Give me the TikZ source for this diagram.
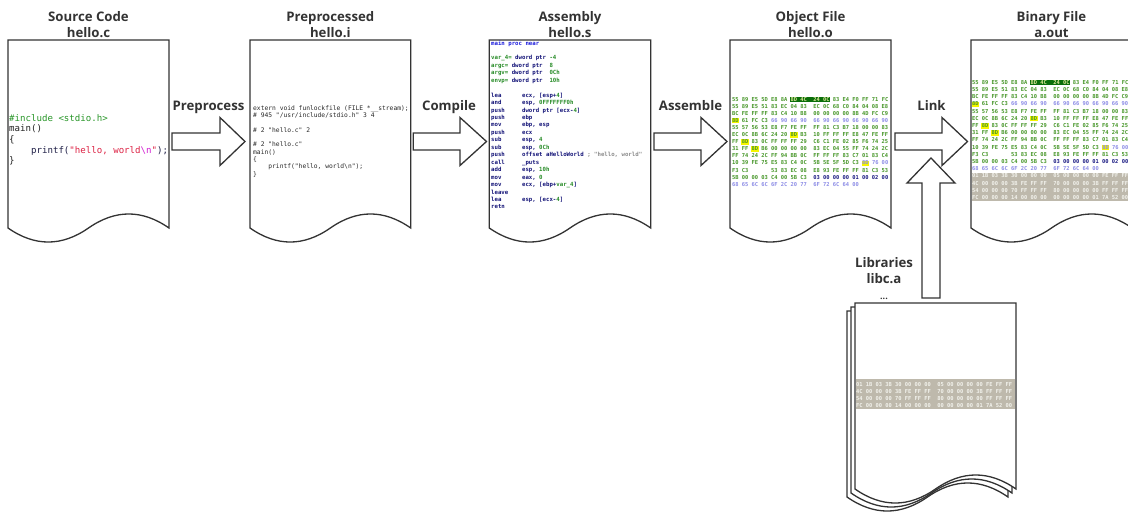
\documentclass[tikz,border=0pt]{standalone}
\usepackage{fontspec}
\setmainfont{Open Sans}
\newfontfamily\codefont{DejaVu Sans Mono}
\usetikzlibrary{calc}

\definecolor{lineC}{RGB}{51,51,51}
\definecolor{incG}{RGB}{40,150,40}
\definecolor{srcDark}{RGB}{34,34,34}
\definecolor{printfC}{RGB}{30,30,70}
\definecolor{strR}{RGB}{221,34,68}
\definecolor{escM}{RGB}{210,30,210}
\definecolor{preC}{RGB}{40,40,40}
\definecolor{asmNavy}{RGB}{20,20,120}
\definecolor{asmBlue}{RGB}{30,30,220}
\definecolor{asmGreen}{RGB}{40,140,40}
\definecolor{asmGray}{RGB}{140,140,140}
\definecolor{hexG}{RGB}{70,150,40}
\definecolor{hexLav}{RGB}{140,140,230}
\definecolor{hexNavy}{RGB}{25,25,130}
\definecolor{hlDark}{RGB}{10,110,10}
\definecolor{hlDarkText}{RGB}{220,230,150}
\definecolor{hlYel}{RGB}{245,245,0}
\definecolor{bandC}{RGB}{190,185,172}
\definecolor{bandT}{RGB}{242,242,236}

\newcommand\hlbox[3]{\kern-0.7pt\relax{\setlength\fboxsep{0pt}\colorbox{#1}{\kern0.7pt\relax\rule[-1pt]{0pt}{5.4pt}\color{#2}#3\kern0.7pt\relax}}\kern-0.7pt\relax}
\newcommand\hL[1]{{\color{hexLav}#1}}
\newcommand\hN[1]{{\color{hexNavy}#1}}
\newcommand\hY[1]{\hlbox{hlYel}{hexG}{#1}}
\newcommand\hD[1]{\hlbox{hlDark}{hlDarkText}{#1}}
\newcommand\aG[1]{{\color{asmGreen}#1}}
\newcommand\mn[1]{\makebox[5.418em][l]{#1}}

\newcommand\docshape[4]{%
  \draw[docline] (#1,#3) -- (#2,#3) -- (#2,#4)
    .. controls ({#2-(#2-#1)/6},{#4-18.7}) and ({#1+(#2-#1)*2/3},{#4-18.7}) .. ({(#1+#2)/2},#4)
    .. controls ({#1+(#2-#1)/3},{#4+18.7}) and ({#1+(#2-#1)/6},{#4+18.7}) .. (#1,#4) -- cycle;}
\newcommand\harrow[3]{%
  \draw[blockarrow] (#1,133) -- (#2,133) -- (#2,117.5) -- (#3,141.5) -- (#2,165.5) -- (#2,150) -- (#1,150) -- cycle;}

\newcommand\objrows{%
 {55 89 E5 5D E8 8A \hD{8D 4C~ 24 0C} 83 E4 F0 FF 71 FC},
 {55 89 E5 51 83 EC 04 83~ EC 0C 68 C0 84 04 08 E8},
 {BC FE FF FF 83 C4 10 B8~ 00 00 00 00 8B 4D FC C9},
 {\hY{8D} 61 FC C3 \hL{66 90 66 90~ 66 90 66 90 66 90 66 90}},
 {55 57 56 53 E8 F7 FE FF~ FF 81 C3 B7 18 00 00 83},
 {EC 0C 8B 6C 24 20 \hY{8D} B3~ 10 FF FF FF E8 47 FE FF},
 {FF \hY{8D} 83 0C FF FF FF 29~ C6 C1 FE 02 85 F6 74 25},
 {31 FF \hY{8D} B6 00 00 00 00~ 83 EC 04 55 FF 74 24 2C},
 {FF 74 24 2C FF 94 BB 0C~ FF FF FF 83 C7 01 83 C4},
 {10 39 FE 75 E5 83 C4 0C~ 5B 5E 5F 5D C3 \hY{\hL{8D}} \hL{76 00}},
 {F3 C3~~~~~~ 53 83 EC 08~ E8 93 FE FF FF 81 C3 53},
 {5B 00 00 03 C4 00 5B C3~ \hN{03 00 00 00 01 00 02 00}},
 {\hL{68 65 6C 6C 6F 2C 20 77~ 6F 72 6C 64 00}}}
\newcommand\bandrows{%
 {01 1B 03 3B 30 00 00 00~ 05 00 00 00 00 FE FF FF},
 {4C 00 00 00 3B FE FF FF~ 70 00 00 00 3B FF FF FF},
 {54 00 00 00 70 FF FF FF~ 80 00 00 00 00 FF FF FF},
 {FC 00 00 00 14 00 00 00~ 00 00 00 00 01 7A 52 00}}

\tikzset{
  docline/.style={draw=lineC, line width=1.3pt, fill=white, line join=miter},
  blockarrow/.style={draw=lineC, line width=1.3pt, fill=white, line join=miter},
  title/.style={font=\bfseries\fontsize{13.2}{15}\selectfont, text=lineC, inner sep=0pt, anchor=base},
  srctext/.style={font=\codefont\fontsize{9.1}{10}\selectfont, text=srcDark, inner sep=0pt, anchor=base west},
  pretext/.style={font=\codefont\fontsize{6.3}{7}\selectfont, text=preC, inner sep=0pt, anchor=base west},
  asmtext/.style={font=\codefont\bfseries\fontsize{5.7}{6}\selectfont, text=asmNavy, inner sep=0pt, anchor=base west},
  hextext/.style={font=\codefont\bfseries\fontsize{5.4}{6}\selectfont, text=hexG, inner sep=0pt, anchor=base west},
  bandtext/.style={hextext, text=bandT},
}

\begin{document}
\begin{tikzpicture}[x=1pt,y=-1pt]
\useasboundingbox (0,0) rectangle (1128,512);

% ---------- documents ----------
\docshape{8}{169}{40}{228}
\docshape{250}{410.7}{40}{228}
\docshape{489.3}{650.7}{40}{228}
\docshape{730}{891}{40}{228}
\docshape{971}{1132}{40}{228}

% ---------- titles ----------
\node[title] (t1a) at (88.5,21) {Source Code};
\node[title] (t1b) at (88.5,37.5) {hello.c};
\node[title] (t2a) at (330.3,21) {Preprocessed};
\node[title] (t2b) at (330.3,37.5) {hello.i};
\node[title] (t3a) at (570,21) {Assembly};
\node[title] (t3b) at (570,37.5) {hello.s};
\node[title] (t4a) at (810.5,21) {Object File};
\node[title] (t4b) at (810.5,37.5) {hello.o};
\node[title] (t5a) at (1051.5,21) {Binary File};
\node[title] (t5b) at (1051.5,37.5) {a.out};

% ---------- source code ----------
\foreach \ln [count=\i from 0] in {
  {\color{incG}\#include <stdio.h>},
  {main()},
  {\{},
  {~~~~{\color{printfC}printf(}{\color{strR}"hello, world}{\color{escM}\textbackslash n}{\color{strR}"}{\color{printfC});}},
  {\}}}
  \node[srctext] (src\i) at (9,{121.2+\i*10.6}) {\ln};

% ---------- preprocessed ----------
\foreach \ln [count=\i from 0] in {
  {extern void funlockfile (FILE *\_\_stream);},
  {\# 945 "/usr/include/stdio.h" 3 4},
  {},
  {\# 2 "hello.c" 2},
  {},
  {\# 2 "hello.c"},
  {main()},
  {\{},
  {~~~~printf("hello, world\textbackslash n");},
  {\}}}
  \node[pretext] (pre\i) at (253,{110.3+\i*7.33}) {\ln};

% ---------- assembly ----------
\foreach \ln [count=\i from 0] in {
  {{\color{asmBlue}main proc near}},
  {},
  {\aG{var\_4=} dword ptr \aG{-4}},
  {\aG{argc=} dword ptr~ \aG{8}},
  {\aG{argv=} dword ptr~ \aG{0Ch}},
  {\aG{envp=} dword ptr~ \aG{10h}},
  {},
  {\mn{lea}ecx, [esp+\aG{4}]},
  {\mn{and}esp, \aG{0FFFFFFF0h}},
  {\mn{push}dword ptr [ecx-\aG{4}]},
  {\mn{push}ebp},
  {\mn{mov}ebp, esp},
  {\mn{push}ecx},
  {\mn{sub}esp, \aG{4}},
  {\mn{sub}esp, \aG{0Ch}},
  {\mn{push}offset aHelloWorld {\color{asmGray}; "hello, world"}},
  {\mn{call}\_puts},
  {\mn{add}esp, \aG{10h}},
  {\mn{mov}eax, \aG{0}},
  {\mn{mov}ecx, [ebp+\aG{var\_4}]},
  {leave},
  {\mn{lea}esp, [ecx-\aG{4}]},
  {retn}}
  \node[asmtext] (asm\i) at (491,{45+\i*7.45}) {\ln};

% ---------- object file ----------
\foreach \ln [count=\i from 0] in \objrows
  \node[hextext] (obj\i) at (732,{101+\i*7.1}) {\ln};

% ---------- binary file ----------
\fill[bandC] (971.7,172.5) rectangle (1132,201);
\foreach \ln [count=\i from 0] in \objrows
  \node[hextext] (bin\i) at (972,{84.3+\i*7.2}) {\ln};
\foreach \ln [count=\i from 0] in \bandrows
  \node[bandtext] (binb\i) at (972,{177.8+\i*7.2}) {\ln};

% ---------- block arrows ----------
\harrow{172}{220}{245}
\harrow{413.3}{460}{486.5}
\harrow{654}{701}{727}
\harrow{895}{942}{967.5}
\draw[blockarrow] (922,298) -- (922,183) -- (907,183) -- (931,158) -- (955,183) -- (940,183) -- (940,298) -- cycle;

\node[title] (lp) at (208.5,110) {Preprocess};
\node[title] (lc) at (449,110) {Compile};
\node[title] (la) at (690.5,110) {Assemble};
\node[title] (ll) at (931.5,110) {Link};

% ---------- libraries ----------
\node[title] (lib1) at (884,267.5) {Libraries};
\node[title] (lib2) at (884,283.3) {libc.a};
\node[title, font=\bfseries\fontsize{9}{10}\selectfont] (lib3) at (884,299) {...};
\docshape{847}{1008}{311}{497}
\docshape{851}{1012}{307}{493}
\docshape{855}{1016}{303}{489}
\fill[bandC] (855.7,379) rectangle (1015.3,409);
\foreach \ln [count=\i from 0] in \bandrows
  \node[bandtext] (libb\i) at (856,{386+\i*7.1}) {\ln};
\end{tikzpicture}
\end{document}
